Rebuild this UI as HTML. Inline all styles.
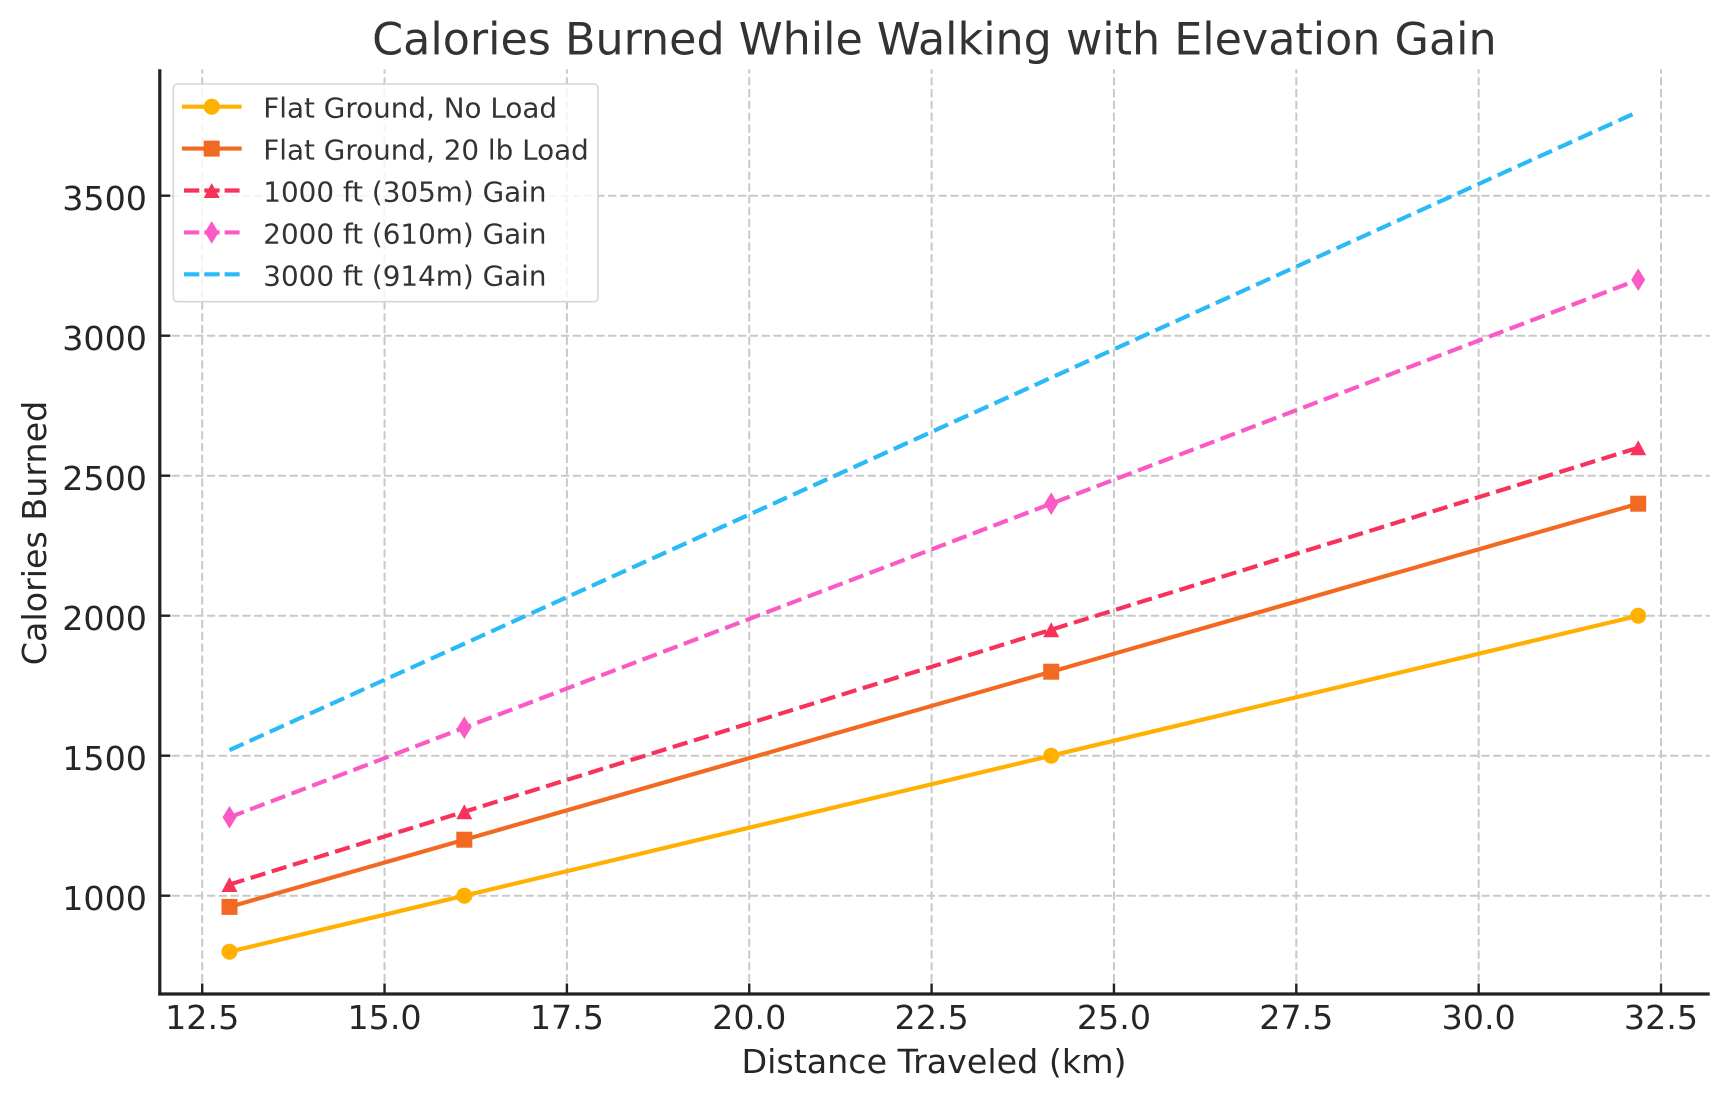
<!DOCTYPE html>
<html>
<head>
<meta charset="utf-8">
<style>
  html, body { margin: 0; padding: 0; background: #ffffff; }
  body { width: 1728px; height: 1101px; overflow: hidden; }
  svg { display: block; }
  text { font-family: "DejaVu Sans", "Liberation Sans", sans-serif; }
</style>
</head>
<body>
<svg xmlns="http://www.w3.org/2000/svg" width="1728" height="1101" viewBox="0 0 1728 1101">
  <rect x="0" y="0" width="1728" height="1101" fill="#ffffff"/>

  <!-- Grid lines -->
  <g stroke="#c9c9c9" stroke-width="2" stroke-dasharray="8.2 3.6" fill="none">
    <!-- vertical -->
    <line x1="202.2" y1="994" x2="202.2" y2="69.3"/>
    <line x1="384.55" y1="994" x2="384.55" y2="69.3"/>
    <line x1="566.9" y1="994" x2="566.9" y2="69.3"/>
    <line x1="749.25" y1="994" x2="749.25" y2="69.3"/>
    <line x1="931.6" y1="994" x2="931.6" y2="69.3"/>
    <line x1="1113.95" y1="994" x2="1113.95" y2="69.3"/>
    <line x1="1296.3" y1="994" x2="1296.3" y2="69.3"/>
    <line x1="1478.65" y1="994" x2="1478.65" y2="69.3"/>
    <line x1="1661" y1="994" x2="1661" y2="69.3"/>
    <!-- horizontal -->
    <line x1="159.8" y1="895.7" x2="1709.7" y2="895.7"/>
    <line x1="159.8" y1="755.7" x2="1709.7" y2="755.7"/>
    <line x1="159.8" y1="615.7" x2="1709.7" y2="615.7"/>
    <line x1="159.8" y1="475.7" x2="1709.7" y2="475.7"/>
    <line x1="159.8" y1="335.7" x2="1709.7" y2="335.7"/>
    <line x1="159.8" y1="195.7" x2="1709.7" y2="195.7"/>
  </g>

  <!-- Series: Flat Ground, No Load -->
  <polyline points="229.5,951.7 464.3,895.7 1051.2,755.7 1638.2,615.7" fill="none" stroke="#FFB000" stroke-width="4.17" stroke-linejoin="round" stroke-linecap="square"/>
  <g fill="#FFB000">
    <circle cx="229.5" cy="951.7" r="8"/>
    <circle cx="464.3" cy="895.7" r="8"/>
    <circle cx="1051.2" cy="755.7" r="8"/>
    <circle cx="1638.2" cy="615.7" r="8"/>
  </g>

  <!-- Series: Flat Ground, 20 lb Load -->
  <polyline points="229.5,906.9 464.3,839.7 1051.2,671.7 1638.2,503.7" fill="none" stroke="#F26A21" stroke-width="4.17" stroke-linejoin="round" stroke-linecap="square"/>
  <g fill="#F26A21">
    <rect x="221.5" y="898.9" width="16" height="16"/>
    <rect x="456.3" y="831.7" width="16" height="16"/>
    <rect x="1043.2" y="663.7" width="16" height="16"/>
    <rect x="1630.2" y="495.7" width="16" height="16"/>
  </g>

  <!-- Series: 1000 ft (305m) Gain -->
  <polyline points="229.5,884.5 464.3,811.7 1051.2,629.7 1638.2,447.7" fill="none" stroke="#F7325B" stroke-width="4.17" stroke-linejoin="round" stroke-linecap="butt" stroke-dasharray="15.4 6.7"/>
  <g fill="#F7325B">
    <polygon points="229.5,877 221.5,892 237.5,892"/>
    <polygon points="464.3,804.2 456.3,819.2 472.3,819.2"/>
    <polygon points="1051.2,622.2 1043.2,637.2 1059.2,637.2"/>
    <polygon points="1638.2,440.2 1630.2,455.2 1646.2,455.2"/>
  </g>

  <!-- Series: 2000 ft (610m) Gain -->
  <polyline points="229.5,817.3 464.3,727.7 1051.2,503.7 1638.2,279.7" fill="none" stroke="#FA5AC6" stroke-width="4.17" stroke-linejoin="round" stroke-linecap="butt" stroke-dasharray="15.4 6.7"/>
  <g fill="#FA5AC6">
    <polygon points="229.5,806 236.5,817.3 229.5,828.6 222.5,817.3"/>
    <polygon points="464.3,716.4 471.3,727.7 464.3,739 457.3,727.7"/>
    <polygon points="1051.2,492.4 1058.2,503.7 1051.2,515 1044.2,503.7"/>
    <polygon points="1638.2,268.4 1645.2,279.7 1638.2,291 1631.2,279.7"/>
  </g>

  <!-- Series: 3000 ft (914m) Gain -->
  <polyline points="229.5,750.1 464.3,643.7 1051.2,377.7 1638.2,111.7" fill="none" stroke="#29BAF7" stroke-width="4.17" stroke-linejoin="round" stroke-linecap="butt" stroke-dasharray="15.4 6.7"/>

  <!-- Spines -->
  <line x1="159.8" y1="69.3" x2="159.8" y2="995.5" stroke="#222222" stroke-width="3.2"/>
  <line x1="158.2" y1="994" x2="1709.7" y2="994" stroke="#222222" stroke-width="3.2"/>

  <!-- Ticks (inward) -->
  <g stroke="#222222" stroke-width="2.4">
    <line x1="202.2" y1="994" x2="202.2" y2="983.5"/>
    <line x1="384.55" y1="994" x2="384.55" y2="983.5"/>
    <line x1="566.9" y1="994" x2="566.9" y2="983.5"/>
    <line x1="749.25" y1="994" x2="749.25" y2="983.5"/>
    <line x1="931.6" y1="994" x2="931.6" y2="983.5"/>
    <line x1="1113.95" y1="994" x2="1113.95" y2="983.5"/>
    <line x1="1296.3" y1="994" x2="1296.3" y2="983.5"/>
    <line x1="1478.65" y1="994" x2="1478.65" y2="983.5"/>
    <line x1="1661" y1="994" x2="1661" y2="983.5"/>

    <line x1="159.8" y1="895.7" x2="170.3" y2="895.7"/>
    <line x1="159.8" y1="755.7" x2="170.3" y2="755.7"/>
    <line x1="159.8" y1="615.7" x2="170.3" y2="615.7"/>
    <line x1="159.8" y1="475.7" x2="170.3" y2="475.7"/>
    <line x1="159.8" y1="335.7" x2="170.3" y2="335.7"/>
    <line x1="159.8" y1="195.7" x2="170.3" y2="195.7"/>
  </g>

  <!-- X tick labels -->
  <g font-size="33.3" fill="#262626" text-anchor="middle">
    <text x="202.2" y="1029">12.5</text>
    <text x="384.55" y="1029">15.0</text>
    <text x="566.9" y="1029">17.5</text>
    <text x="749.25" y="1029">20.0</text>
    <text x="931.6" y="1029">22.5</text>
    <text x="1113.95" y="1029">25.0</text>
    <text x="1296.3" y="1029">27.5</text>
    <text x="1478.65" y="1029">30.0</text>
    <text x="1661" y="1029">32.5</text>
  </g>

  <!-- Y tick labels -->
  <g font-size="33.3" fill="#262626" text-anchor="end">
    <text x="147" y="910">1000</text>
    <text x="147" y="770">1500</text>
    <text x="147" y="630">2000</text>
    <text x="147" y="490">2500</text>
    <text x="147" y="350">3000</text>
    <text x="147" y="210">3500</text>
  </g>

  <!-- Axis labels -->
  <text x="934" y="1073" font-size="33.3" fill="#262626" text-anchor="middle">Distance Traveled (km)</text>
  <text transform="translate(46,533) rotate(-90)" font-size="33.3" fill="#262626" text-anchor="middle">Calories Burned</text>

  <!-- Title -->
  <text x="934.4" y="54.3" font-size="44.4" fill="#333333" text-anchor="middle">Calories Burned While Walking with Elevation Gain</text>

  <!-- Legend -->
  <rect x="173.3" y="84" width="424.7" height="217.7" rx="4" ry="4" fill="#ffffff" fill-opacity="0.8" stroke="#d5d5d5" stroke-width="1.6"/>

  <!-- Row 1 -->
  <line x1="184" y1="106.7" x2="239.6" y2="106.7" stroke="#FFB000" stroke-width="4.17" stroke-linecap="square"/>
  <circle cx="211.7" cy="106.7" r="8" fill="#FFB000"/>
  <text x="263.3" y="117.7" font-size="27.8" fill="#333333">Flat Ground, No Load</text>

  <!-- Row 2 -->
  <line x1="184" y1="148.6" x2="239.6" y2="148.6" stroke="#F26A21" stroke-width="4.17" stroke-linecap="square"/>
  <rect x="203.7" y="140.6" width="16" height="16" fill="#F26A21"/>
  <text x="263.3" y="159.6" font-size="27.8" fill="#333333">Flat Ground, 20 lb Load</text>

  <!-- Row 3 -->
  <line x1="184" y1="190.5" x2="239.6" y2="190.5" stroke="#F7325B" stroke-width="4.17" stroke-dasharray="15.3 5"/>
  <polygon points="211.7,183 203.7,198 219.7,198" fill="#F7325B"/>
  <text x="263.3" y="201.5" font-size="27.8" fill="#333333">1000 ft (305m) Gain</text>

  <!-- Row 4 -->
  <line x1="184" y1="232.4" x2="239.6" y2="232.4" stroke="#FA5AC6" stroke-width="4.17" stroke-dasharray="15.3 5"/>
  <polygon points="211.7,221.1 218.7,232.4 211.7,243.7 204.7,232.4" fill="#FA5AC6"/>
  <text x="263.3" y="243.4" font-size="27.8" fill="#333333">2000 ft (610m) Gain</text>

  <!-- Row 5 -->
  <line x1="184" y1="274.3" x2="239.6" y2="274.3" stroke="#29BAF7" stroke-width="4.17" stroke-dasharray="15.3 5"/>
  <text x="263.3" y="285.3" font-size="27.8" fill="#333333">3000 ft (914m) Gain</text>
</svg>
</body>
</html>
